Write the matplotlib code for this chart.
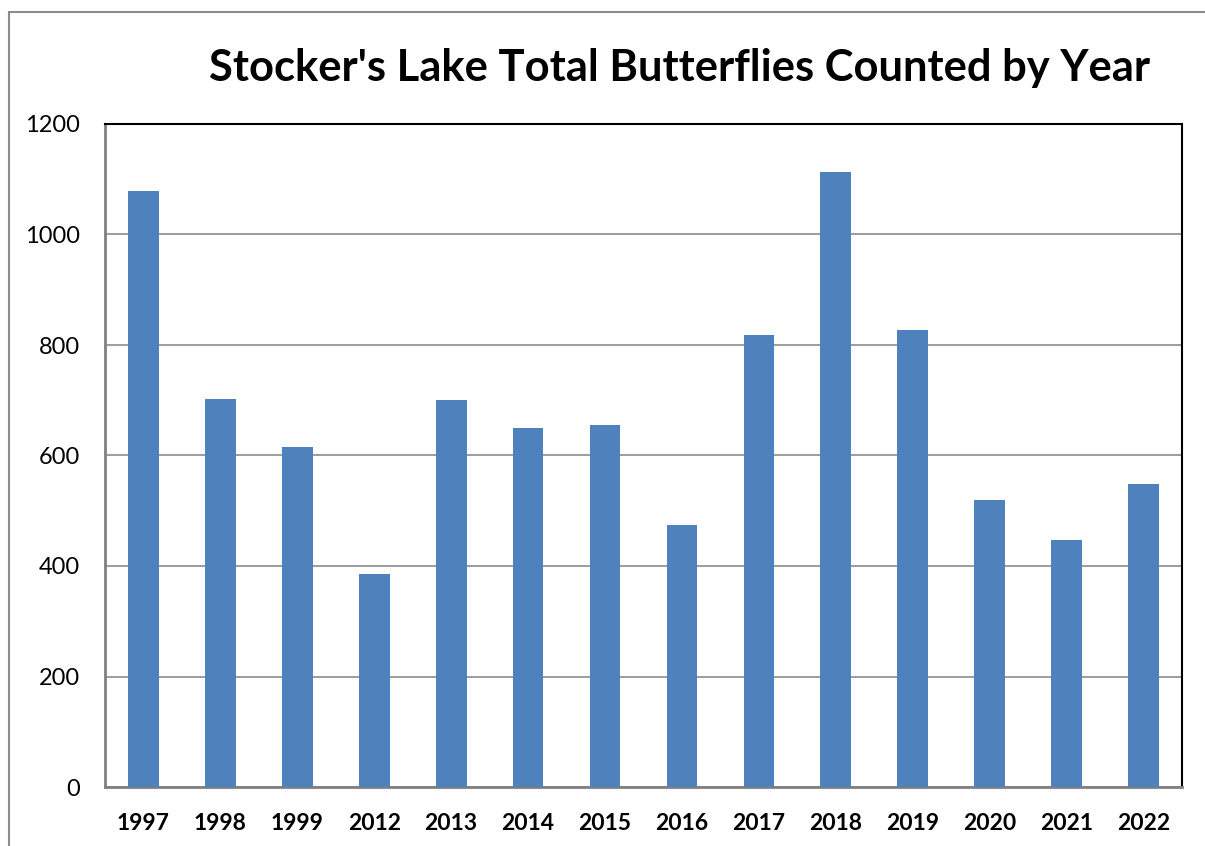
import matplotlib
matplotlib.use("Agg")
import matplotlib.pyplot as plt
from matplotlib.patches import Rectangle

# Data
years = ['1997', '1998', '1999', '2012', '2013', '2014', '2015', '2016',
         '2017', '2018', '2019', '2020', '2021', '2022']
counts = [1079, 702, 615, 385, 700, 650, 655, 474, 818, 1113, 827, 519, 447, 548]

plt.rcParams['font.family'] = ['Lato', 'DejaVu Sans']

fig = plt.figure(figsize=(12.05, 8.46), dpi=100)
ax = fig.add_axes([105/1205, 1 - 787/846, (1182-105)/1205, (787-124)/846])

# outer chart border
fig.patches.append(Rectangle((9/1205, -0.05), 1.1, 1 - 12/846 + 0.05,
                             transform=fig.transFigure, fill=False,
                             edgecolor='#8c8c8c', linewidth=1.5))

x = range(len(years))
ax.bar(x, counts, width=0.4, color='#4f81bd', zorder=3)

ax.set_xlim(-0.5, len(years) - 0.5)
ax.set_ylim(0, 1200)
ax.set_yticks(range(0, 1201, 200))
ax.set_xticks(list(x))
ax.set_xticklabels(years, fontsize=16.5, fontweight='bold')
ax.tick_params(axis='y', labelsize=17, length=0, pad=18)
ax.tick_params(axis='x', length=0, pad=19)
ax.yaxis.grid(True, color='#8c8c8c', linewidth=1.2, zorder=0)

ax.spines['left'].set_color('#808080')
ax.spines['bottom'].set_color('#808080')
ax.spines['left'].set_linewidth(2)
ax.spines['bottom'].set_linewidth(2)
ax.spines['top'].set_color('black')
ax.spines['right'].set_color('black')
ax.spines['top'].set_linewidth(1.5)
ax.spines['right'].set_linewidth(1.5)

fig.text(680/1205, 1 - 68/846, "Stocker's Lake Total Butterflies Counted by Year",
         ha='center', va='center', fontsize=31.3, fontweight='bold')

fig.savefig('out.png', dpi=100)
